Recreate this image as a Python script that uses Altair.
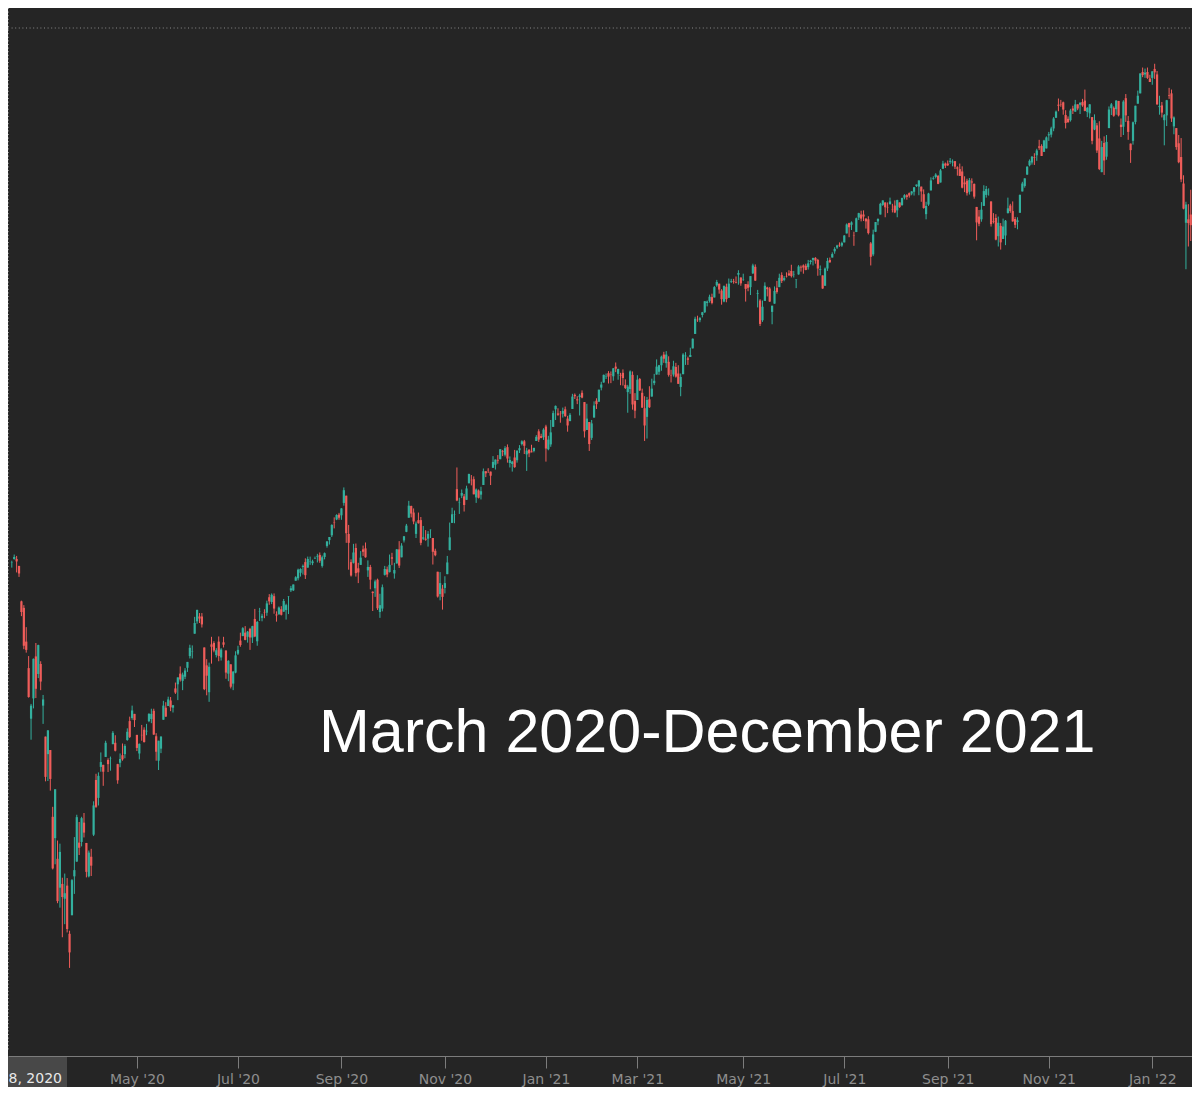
import json
import altair as alt
import pandas as pd

# Daily candles (open, high, low, close), one list per month
feb_2020 = [(3370,3375,3355,3371),(3380,3393,3378,3386),(3380,3389,3341,3373),(3360,3360,3328,3338),(3257,3259,3214,3226),(3238,3246,3118,3128),(3140,3182,3108,3116),(3063,3098,2977,2979),(2916,2959,2855,2954)]
mar_2020 = [(2975,3091,2946,3090),(3097,3136,2976,3003),(3046,3131,3034,3130),(3075,3083,2999,3024),(2954,2985,2901,2972),(2864,2864,2734,2747),(2813,2883,2735,2882),(2825,2825,2707,2741),(2631,2660,2478,2481),(2569,2711,2493,2711),(2509,2562,2380,2386),(2425,2553,2367,2529),(2436,2454,2281,2398),(2393,2466,2319,2409),(2431,2453,2295,2305),(2291,2300,2192,2237),(2345,2450,2345,2447),(2458,2572,2407,2476),(2501,2637,2500,2630),(2556,2616,2520,2541),(2558,2631,2545,2627),(2614,2642,2571,2585)]
apr_2020 = [(2555,2555,2455,2471),(2458,2533,2455,2527),(2515,2538,2459,2489),(2579,2676,2575,2664),(2738,2756,2657,2660),(2686,2760,2664,2750),(2776,2818,2762,2790),(2782,2782,2721,2762),(2805,2852,2805,2846),(2796,2801,2761,2784),(2799,2806,2765,2800),(2842,2880,2842,2875),(2846,2868,2821,2823),(2784,2785,2727,2737),(2788,2815,2775,2799),(2810,2844,2794,2798),(2813,2842,2801,2837),(2854,2888,2852,2878),(2909,2922,2860,2863),(2918,2954,2913,2940),(2930,2930,2892,2912)]
may_2020 = [(2869,2869,2822,2831),(2815,2844,2798,2843),(2869,2898,2852,2868),(2884,2891,2847,2848),(2879,2901,2868,2881),(2909,2932,2906,2930),(2915,2945,2903,2930),(2939,2945,2869,2870),(2865,2874,2794,2820),(2794,2852,2767,2852),(2829,2865,2816,2864),(2913,2968,2913,2954),(2948,2964,2922,2922),(2953,2980,2953,2972),(2969,2979,2938,2949),(2948,2956,2934,2955),(3004,3021,2988,2992),(3016,3036,2970,3036),(3047,3068,3024,3030),(3026,3050,2999,3044)]
jun_2020 = [(3038,3063,3031,3056),(3064,3081,3052,3081),(3098,3131,3091,3122),(3111,3129,3091,3112),(3163,3212,3163,3194),(3199,3233,3192,3232),(3213,3223,3194,3207),(3213,3223,3181,3190),(3123,3123,2999,3002),(3071,3089,2984,3041),(2993,3079,2965,3067),(3132,3154,3076,3125),(3136,3141,3109,3114),(3101,3121,3094,3115),(3140,3155,3083,3098),(3094,3121,3085,3117),(3138,3154,3123,3131),(3114,3115,3032,3050),(3047,3086,3025,3084),(3074,3074,3004,3009),(3018,3054,2999,3053),(3050,3112,3048,3100)]
jul_2020 = [(3105,3128,3101,3116),(3143,3166,3125,3130),(3156,3182,3156,3179),(3166,3185,3144,3145),(3154,3171,3137,3169),(3177,3180,3116,3152),(3152,3186,3136,3185),(3206,3235,3153,3155),(3141,3200,3128,3197),(3226,3238,3200,3227),(3209,3221,3199,3215),(3225,3234,3208,3224),(3224,3259,3215,3251),(3269,3278,3247,3257),(3255,3280,3249,3276),(3272,3280,3221,3236),(3219,3228,3198,3216),(3219,3242,3219,3239),(3234,3243,3216,3218),(3227,3264,3227,3258),(3232,3250,3204,3246),(3270,3272,3220,3271)]
aug_2020 = [(3289,3302,3284,3295),(3289,3306,3287,3306),(3317,3330,3317,3327),(3324,3352,3318,3349),(3340,3353,3329,3351),(3357,3364,3335,3360),(3371,3382,3322,3333),(3355,3387,3355,3380),(3372,3387,3363,3373),(3368,3378,3362,3373),(3381,3387,3380,3382),(3387,3395,3370,3389),(3392,3399,3369,3375),(3360,3390,3355,3385),(3386,3399,3379,3397),(3418,3432,3413,3431),(3435,3444,3422,3444),(3449,3481,3444,3479),(3486,3501,3469,3485),(3495,3510,3493,3508),(3509,3514,3494,3500)]
sep_2020 = [(3507,3528,3494,3527),(3543,3588,3535,3580),(3564,3564,3427,3455),(3453,3479,3349,3427),(3371,3379,3329,3332),(3369,3424,3367,3399),(3412,3425,3329,3339),(3353,3369,3310,3341),(3363,3403,3363,3384),(3408,3419,3389,3401),(3411,3428,3384,3385),(3347,3376,3328,3357),(3357,3363,3292,3320),(3285,3286,3229,3281),(3295,3320,3270,3315),(3320,3323,3232,3237),(3226,3279,3209,3246),(3236,3306,3228,3298),(3334,3360,3332,3351),(3350,3358,3327,3335),(3342,3393,3341,3363)]
oct_2020 = [(3385,3398,3362,3381),(3338,3369,3323,3348),(3367,3409,3367,3408),(3408,3432,3354,3361),(3385,3426,3385,3419),(3434,3447,3428,3446),(3459,3482,3458,3477),(3500,3549,3500,3535),(3534,3535,3501,3512),(3515,3527,3481,3489),(3453,3489,3441,3483),(3493,3515,3483,3484),(3493,3502,3420,3427),(3439,3476,3435,3443),(3439,3464,3433,3436),(3439,3461,3416,3453),(3464,3466,3441,3465),(3441,3441,3364,3401),(3404,3410,3388,3391),(3343,3343,3268,3271),(3278,3342,3260,3310),(3294,3305,3233,3270)]
nov_2020 = [(3296,3330,3280,3310),(3336,3389,3336,3370),(3406,3486,3405,3443),(3485,3529,3485,3510),(3508,3521,3484,3509),(3583,3646,3548,3550),(3544,3558,3511,3545),(3564,3582,3557,3572),(3562,3569,3518,3537),(3552,3593,3552,3585),(3600,3628,3600,3627),(3610,3624,3594,3609),(3612,3620,3568,3568),(3559,3585,3543,3582),(3579,3582,3556,3558),(3567,3590,3553,3577),(3595,3643,3595,3635),(3635,3635,3618,3629),(3639,3644,3630,3638),(3634,3634,3595,3622)]
dec_2020 = [(3645,3679,3645,3662),(3654,3669,3640,3669),(3668,3682,3657,3666),(3670,3699,3670,3699),(3694,3697,3679,3692),(3683,3708,3678,3702),(3705,3713,3660,3672),(3659,3678,3646,3668),(3656,3665,3634,3663),(3675,3697,3645,3647),(3667,3695,3660,3695),(3696,3711,3688,3702),(3714,3725,3710,3722),(3722,3726,3685,3709),(3684,3703,3636,3695),(3698,3698,3676,3687),(3693,3712,3690,3690),(3694,3703,3690,3703),(3723,3740,3723,3735),(3751,3757,3720,3727),(3737,3744,3731,3732),(3734,3760,3726,3756)]
jan_2021 = [(3765,3770,3663,3701),(3699,3738,3696,3727),(3713,3784,3706,3748),(3764,3811,3764,3804),(3815,3826,3784,3825),(3803,3818,3796,3799),(3802,3810,3776,3801),(3802,3820,3791,3810),(3815,3823,3793,3795),(3788,3796,3750,3768),(3781,3804,3780,3799),(3816,3860,3816,3852),(3857,3861,3845,3853),(3844,3853,3830,3841),(3851,3860,3797,3855),(3863,3870,3847,3849),(3836,3836,3733,3751),(3755,3831,3755,3788),(3778,3778,3694,3714)]
feb_2021 = [(3732,3784,3726,3774),(3791,3838,3791,3826),(3840,3847,3816,3830),(3837,3872,3837,3872),(3878,3895,3870,3887),(3893,3916,3892,3915),(3910,3919,3903,3911),(3920,3926,3890,3910),(3917,3925,3891,3916),(3911,3935,3898,3934),(3939,3951,3923,3933),(3918,3933,3901,3932),(3915,3921,3885,3913),(3921,3931,3884,3906),(3886,3902,3874,3877),(3865,3886,3805,3881),(3874,3928,3860,3925),(3915,3925,3814,3829),(3839,3862,3789,3811)]
mar_2021 = [(3842,3914,3842,3901),(3903,3906,3868,3870),(3863,3875,3819,3820),(3818,3853,3723,3768),(3793,3851,3730,3842),(3844,3882,3819,3821),(3852,3904,3852,3875),(3891,3918,3885,3898),(3916,3960,3916,3939),(3924,3944,3915,3943),(3943,3971,3927,3968),(3974,3982,3950,3962),(3949,3984,3936,3974),(3953,3969,3910,3915),(3914,3930,3893,3913),(3916,3956,3910,3940),(3938,3950,3907,3910),(3919,3943,3889,3889),(3880,3919,3853,3909),(3917,3978,3917,3974),(3969,3981,3944,3971),(3963,3968,3944,3959),(3967,3994,3967,3973)]
apr_2021 = [(3992,4021,3992,4020),(4034,4084,4034,4078),(4075,4087,4069,4074),(4074,4083,4068,4080),(4089,4098,4082,4097),(4097,4129,4095,4129),(4124,4131,4114,4128),(4130,4148,4125,4142),(4141,4151,4120,4124),(4140,4173,4140,4170),(4175,4191,4171,4185),(4180,4180,4151,4163),(4160,4164,4119,4135),(4128,4175,4126,4173),(4171,4180,4126,4135),(4139,4195,4139,4180),(4185,4194,4182,4187),(4188,4194,4180,4186),(4185,4201,4181,4183),(4206,4219,4177,4211),(4198,4198,4174,4181)]
may_2021 = [(4191,4209,4188,4192),(4179,4179,4128,4165),(4178,4187,4158,4168),(4170,4202,4147,4202),(4210,4238,4208,4233),(4229,4236,4188,4189),(4150,4162,4111,4152),(4131,4135,4057,4063),(4074,4131,4069,4113),(4130,4184,4130,4174),(4169,4171,4143,4164),(4166,4170,4127,4128),(4098,4116,4062,4116),(4122,4172,4122,4159),(4168,4188,4151,4156),(4170,4209,4170,4197),(4205,4213,4182,4188),(4191,4202,4187,4196),(4201,4213,4198,4200),(4210,4219,4203,4204)]
jun_2021 = [(4217,4235,4198,4202),(4207,4217,4198,4208),(4191,4193,4167,4192),(4207,4234,4206,4230),(4229,4233,4215,4227),(4233,4236,4209,4227),(4232,4238,4219,4220),(4228,4249,4221,4239),(4243,4249,4236,4247),(4249,4255,4233,4255),(4255,4257,4238,4247),(4249,4252,4203,4224),(4220,4233,4204,4222),(4204,4204,4165,4166),(4174,4227,4174,4224),(4224,4255,4217,4246),(4249,4256,4241,4242),(4256,4271,4256,4266),(4274,4286,4267,4281),(4285,4293,4281,4291),(4293,4300,4287,4291),(4291,4302,4287,4298)]
jul_2021 = [(4300,4321,4300,4320),(4326,4355,4326,4352),(4356,4357,4315,4344),(4351,4361,4336,4358),(4321,4331,4290,4320),(4330,4372,4330,4370),(4372,4386,4365,4385),(4381,4392,4361,4369),(4381,4393,4362,4375),(4369,4370,4340,4361),(4367,4376,4323,4327),(4297,4301,4233,4258),(4265,4337,4260,4323),(4331,4359,4330,4359),(4361,4370,4350,4368),(4381,4415,4381,4412),(4409,4422,4406,4422),(4416,4416,4373,4402),(4402,4416,4385,4401),(4411,4430,4410,4419),(4396,4412,4387,4395)]
aug_2021 = [(4407,4422,4385,4387),(4393,4424,4373,4423),(4416,4416,4400,4403),(4408,4430,4407,4429),(4430,4440,4425,4437),(4437,4440,4424,4432),(4443,4445,4430,4436),(4442,4449,4437,4448),(4447,4461,4436,4460),(4464,4468,4461,4468),(4462,4480,4437,4480),(4462,4462,4418,4448),(4440,4454,4398,4400),(4382,4418,4367,4406),(4410,4444,4406,4442),(4451,4489,4451,4480),(4484,4492,4482,4486),(4490,4501,4486,4497),(4493,4496,4469,4470),(4474,4513,4474,4509),(4514,4537,4514,4529),(4529,4532,4516,4523)]
sep_2021 = [(4529,4538,4522,4524),(4534,4545,4528,4537),(4532,4541,4521,4535),(4536,4536,4513,4520),(4518,4521,4494,4514),(4513,4529,4493,4493),(4506,4521,4457,4459),(4474,4492,4446,4469),(4479,4485,4436,4443),(4447,4487,4439,4481),(4477,4486,4448,4474),(4470,4471,4427,4433),(4403,4403,4306,4358),(4375,4394,4347,4354),(4367,4417,4360,4395),(4406,4466,4406,4449),(4438,4464,4430,4455),(4443,4457,4436,4443),(4419,4419,4346,4353),(4362,4385,4355,4360),(4371,4382,4306,4308)]
oct_2021 = [(4318,4375,4288,4357),(4348,4356,4279,4300),(4310,4369,4310,4346),(4320,4365,4292,4363),(4385,4430,4384,4399),(4407,4412,4386,4391),(4391,4419,4360,4361),(4368,4374,4342,4351),(4359,4373,4338,4364),(4386,4439,4386,4438),(4448,4476,4448,4471),(4464,4486,4459,4486),(4497,4521,4496,4520),(4524,4541,4521,4537),(4532,4551,4526,4549),(4547,4559,4525,4545),(4553,4572,4537,4567),(4579,4598,4569,4575),(4580,4585,4551,4551),(4563,4598,4563,4596),(4573,4608,4573,4605)]
nov_2021 = [(4611,4621,4595,4614),(4613,4636,4605,4631),(4631,4664,4623,4660),(4662,4683,4662,4680),(4700,4718,4681,4697),(4702,4714,4694,4701),(4707,4709,4671,4686),(4670,4684,4631,4647),(4659,4666,4648,4649),(4655,4688,4651,4683),(4689,4697,4673,4683),(4680,4714,4679,4701),(4701,4701,4684,4689),(4700,4708,4673,4705),(4708,4717,4694,4698),(4712,4744,4681,4682),(4679,4693,4664,4691),(4675,4702,4660,4701),(4664,4664,4585,4595),(4628,4672,4626,4655),(4640,4647,4560,4567)]
dec_2021 = [(4602,4652,4510,4513),(4504,4595,4504,4577),(4589,4608,4496,4538),(4549,4612,4540,4592),(4632,4695,4632,4686),(4690,4705,4670,4701),(4691,4695,4665,4668),(4687,4713,4671,4712),(4711,4711,4666,4669),(4642,4660,4606,4635),(4636,4713,4612,4709),(4719,4731,4650,4669),(4653,4667,4598,4621),(4587,4587,4531,4568),(4595,4651,4584,4649),(4650,4697,4643,4697),(4703,4741,4703,4726),(4733,4791,4733,4791),(4795,4808,4780,4786),(4788,4805,4778,4793),(4795,4808,4775,4778),(4776,4787,4766,4766)]
jan_2022 = [(4778,4797,4758,4797),(4804,4819,4775,4794),(4788,4798,4700,4701),(4693,4726,4671,4696),(4698,4708,4663,4677),(4655,4673,4582,4670),(4669,4714,4638,4713),(4728,4749,4717,4726),(4733,4744,4650,4660),(4637,4666,4614,4663),(4632,4632,4569,4577),(4588,4612,4530,4533),(4548,4603,4475,4483),(4471,4495,4396,4398),(4357,4418,4222,4410),(4367,4411,4288,4356),(4381,4453,4304,4350)]

month_labels = ["Feb '20", "Mar '20", "Apr '20", "May '20", "Jun '20", "Jul '20", "Aug '20",
                "Sep '20", "Oct '20", "Nov '20", "Dec '20", "Jan '21", "Feb '21", "Mar '21",
                "Apr '21", "May '21", "Jun '21", "Jul '21", "Aug '21", "Sep '21", "Oct '21",
                "Nov '21", "Dec '21", "Jan '22"]
month_data = [feb_2020, mar_2020, apr_2020, may_2020, jun_2020, jul_2020, aug_2020, sep_2020,
              oct_2020, nov_2020, dec_2020, jan_2021, feb_2021, mar_2021, apr_2021, may_2021,
              jun_2021, jul_2021, aug_2021, sep_2021, oct_2021, nov_2021, dec_2021, jan_2022]
labeled_months = ["Jan", "Mar", "May", "Jul", "Sep", "Nov"]

annotation = "March 2020-December 2021"
crosshair_label = "Feb 18, 2020"

UP = "#33b09e"
DOWN = "#f05d5a"
BG = "#252525"

rows = []
tick_idx, tick_lab = [], []
n = 0
for lab, candles in zip(month_labels, month_data):
    # the crosshair date label hides the month ticks that fall under it
    if lab.split()[0] in labeled_months and n > 20:
        tick_idx.append(n)
        tick_lab.append(lab)
    for o, h, l, c in candles:
        rows.append({"i": n, "o": o, "h": h, "l": l, "c": c,
                     "dir": "up" if c >= o else "down"})
        n += 1
df = pd.DataFrame(rows)

label_expr = json.dumps(tick_lab) + "[indexof(" + json.dumps(tick_idx) + ", datum.value)]"

W, H = 1184, 1048
xscale = alt.Scale(domain=[0.495, 488.44], nice=False, zero=False)
yscale = alt.Scale(domain=[1936, 4981], nice=False, zero=False)
color = alt.Color("dir:N", scale=alt.Scale(domain=["up", "down"], range=[UP, DOWN]), legend=None)

x_enc = alt.X("i:Q", scale=xscale,
              axis=alt.Axis(values=tick_idx, labelExpr=label_expr, title=None, grid=False,
                            labelFlush=False, labelOverlap=False, labelBound=False,
                            domainColor="#7c7c7c", domainWidth=1, tickColor="#7c7c7c",
                            tickSize=12, tickWidth=1, labelColor="#8e8e8e",
                            labelFont="DejaVu Sans", labelFontSize=14, labelPadding=4))

base = alt.Chart(df)
wicks = base.mark_rule(strokeWidth=1, clip=True).encode(
    x=x_enc, y=alt.Y("l:Q", scale=yscale, axis=None), y2="h:Q", color=color)
bodies = base.mark_bar(size=2.2, clip=True).encode(
    x=alt.X("i:Q", scale=xscale), y=alt.Y("o:Q", scale=yscale), y2="c:Q", color=color)

one = pd.DataFrame({"t": [annotation], "c": [crosshair_label]})
h_cross = alt.Chart(one).mark_rule(color="#8a8a8a", strokeDash=[1, 2.6], strokeWidth=1).encode(
    x=alt.value(0), x2=alt.value(W), y=alt.value(20))
v_cross = alt.Chart(one).mark_rule(color="#8a8a8a", strokeDash=[1, 2.6], strokeWidth=1).encode(
    x=alt.value(0.5), y=alt.value(0), y2=alt.value(1042))
ann = alt.Chart(one).mark_text(align="left", baseline="alphabetic", font="Liberation Sans",
                               fontSize=61, color="#ffffff").encode(
    x=alt.value(311), y=alt.value(744), text="t:N")
box = alt.Chart(one).mark_rect(color="#484848").encode(
    x=alt.value(-8), x2=alt.value(59), y=alt.value(1049), y2=alt.value(1095))
box_text = alt.Chart(one).mark_text(align="right", baseline="alphabetic", font="DejaVu Sans",
                                    fontSize=14, color="#e8e8e8").encode(
    x=alt.value(54), y=alt.value(1075), text="c:N")

chart = alt.layer(h_cross, v_cross, wicks, bodies, ann, box, box_text).properties(
    width=W, height=H,
    autosize=alt.AutoSizeParams(type="none"),
    padding={"left": 0, "top": 0, "right": 0, "bottom": 31},
    background=BG,
).configure_view(stroke=None)

chart.save("out.html", embed_options={"renderer": "svg", "actions": False})
